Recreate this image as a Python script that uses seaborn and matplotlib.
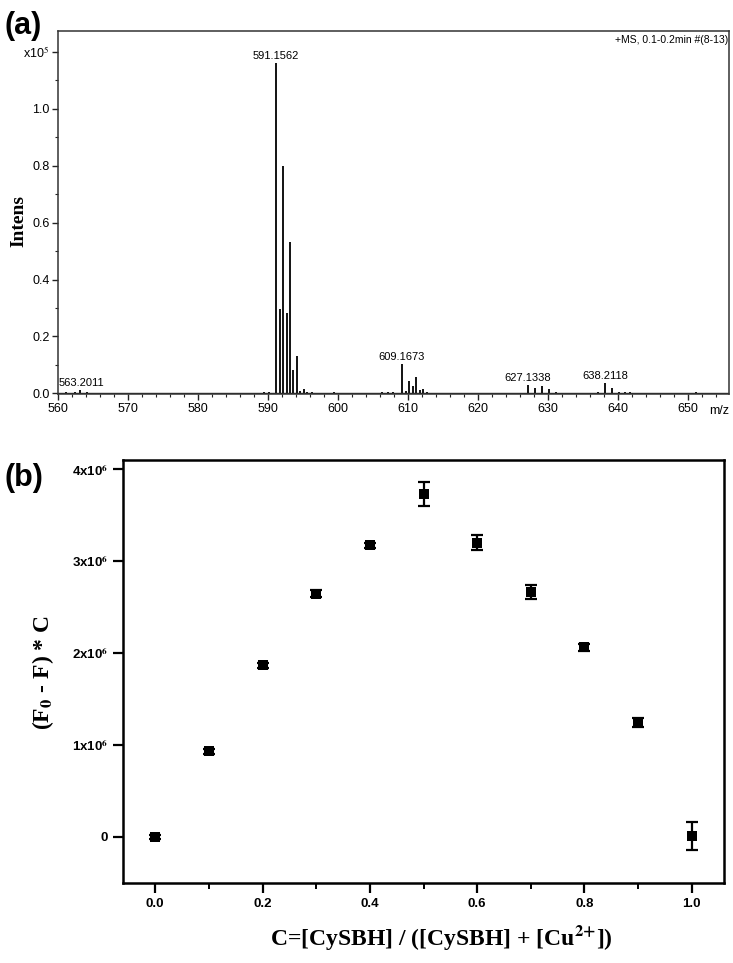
import numpy as np
import pandas as pd
import matplotlib
matplotlib.use("Agg")
import matplotlib.pyplot as plt
import seaborn as sns

sns.set_theme(style="ticks")
plt.rcParams["font.family"] = ["Liberation Sans", "DejaVu Sans"]
plt.rcParams["mathtext.fontset"] = "stix"
plt.rcParams.update({"text.color": "black", "axes.labelcolor": "black",
                     "xtick.color": "black", "ytick.color": "black"})

# ---------- data: (a) mass spectrum sticks ----------
mz_main = [591.16, 591.66, 592.16, 592.66, 593.15, 593.65, 594.15, 594.65, 595.15, 595.65]
int_main = [1.160, 0.298, 0.800, 0.282, 0.531, 0.082, 0.132, 0.010, 0.017, 0.004]

mz_609 = [609.17, 609.67, 610.17, 610.67, 611.17, 611.67, 612.17, 612.67]
int_609 = [0.102, 0.008, 0.043, 0.025, 0.057, 0.012, 0.016, 0.004]

mz_627 = [627.13, 628.13, 629.13, 630.13, 631.13, 632.13]
int_627 = [0.030, 0.018, 0.027, 0.014, 0.004, 0.003]

mz_638 = [636.4, 637.2, 638.21, 639.21, 640.2, 641.0, 641.8, 642.4]
int_638 = [0.003, 0.004, 0.036, 0.018, 0.006, 0.004, 0.004, 0.003]

mz_small = [560.5, 561.2, 561.9, 562.5, 563.20, 564.1, 565.3, 588.7, 589.5, 590.2,
            596.3, 598.6, 599.4, 600.3, 601.1, 605.5, 606.3, 607.2, 607.9, 613.4,
            615.8, 617.6, 633.6, 649.0, 651.2, 652.4]
int_small = [0.003, 0.004, 0.003, 0.004, 0.012, 0.004, 0.003, 0.003, 0.004, 0.005,
             0.004, 0.003, 0.004, 0.003, 0.003, 0.003, 0.004, 0.004, 0.005, 0.003,
             0.003, 0.003, 0.003, 0.003, 0.004, 0.003]

peak_labels = ["563.2011", "591.1562", "609.1673", "627.1338", "638.2118"]
peak_label_mz = [563.20, 591.16, 609.17, 627.13, 638.21]
peak_label_int = [0.012, 1.160, 0.102, 0.030, 0.036]

# ---------- data: (b) Job's plot ----------
ratio = [0.0, 0.1, 0.2, 0.3, 0.4, 0.5, 0.6, 0.7, 0.8, 0.9, 1.0]
signal = [0.0, 0.93e6, 1.865e6, 2.645e6, 3.17e6, 3.73e6, 3.20e6, 2.66e6, 2.06e6, 1.24e6, 0.01e6]
signal_err = [0.02e6, 0.025e6, 0.025e6, 0.035e6, 0.03e6, 0.135e6, 0.08e6, 0.075e6, 0.04e6, 0.05e6, 0.155e6]

spec = pd.DataFrame({
    "mz": mz_main + mz_609 + mz_627 + mz_638 + mz_small,
    "intens": int_main + int_609 + int_627 + int_638 + int_small,
})
job = pd.DataFrame({"ratio": ratio, "signal": signal, "err": signal_err})

fig = plt.figure(figsize=(7.33, 9.63), dpi=100)

# ---------- (a) ----------
ax1 = fig.add_axes([58 / 733, 1 - 394.5 / 963, 671 / 733, 363.5 / 963])
ax1.vlines(spec["mz"], 0, spec["intens"], color="black", lw=1.3)
ax1.axhline(0, color="#222222", lw=1.0)
ax1.set_xlim(560, 655.9)
ax1.set_ylim(-0.004, 1.274)
ax1.set_xticks(range(560, 651, 10))
ax1.set_xticks(range(560, 656, 2), minor=True)
ax1.set_yticks([0.0, 0.2, 0.4, 0.6, 0.8, 1.0, 1.2])
ax1.set_yticklabels(["0.0", "0.2", "0.4", "0.6", "0.8", "1.0", "x10$^5$"])
ax1.set_yticks(np.arange(0, 1.25, 0.1), minor=True)
ax1.tick_params(axis="both", which="major", length=4, width=1.0, labelsize=9, pad=2, color="#222222")
ax1.tick_params(axis="both", which="minor", length=2, width=0.8, color="#222222")
for s in ax1.spines.values():
    s.set_linewidth(1.1)
    s.set_color("#333333")
ax1.set_ylabel("Intens", family=["Liberation Serif"], fontweight="bold", fontsize=14)
ax1.yaxis.set_label_coords(-0.046, 0.477)
for lab, x, y in zip(peak_labels, peak_label_mz, peak_label_int):
    ha = "left" if lab == "563.2011" else "center"
    xx = 560.1 if lab == "563.2011" else x
    ax1.text(xx, y + 0.008, lab, ha=ha, va="bottom", fontsize=8)
ax1.text(0.999, 0.975, "+MS, 0.1-0.2min #(8-13)", transform=ax1.transAxes,
         ha="right", va="center", fontsize=7.5)
ax1.text(1.0, -0.045, "m/z", transform=ax1.transAxes, ha="right", va="center", fontsize=9)

# ---------- (b) ----------
ax2 = fig.add_axes([123 / 733, 1 - 882.7 / 963, 601 / 733, 422.7 / 963])
ax2.errorbar(job["ratio"], job["signal"], yerr=job["err"], fmt="none",
             ecolor="black", elinewidth=1.6, capsize=4, capthick=1.6, zorder=2)
sns.scatterplot(data=job, x="ratio", y="signal", marker="s", s=55, color="black",
                edgecolor="black", linewidth=0, ax=ax2, zorder=3)
ax2.set_xlim(-0.06, 1.06)
ax2.set_ylim(-0.5e6, 4.1e6)
ax2.set_xticks([0.0, 0.2, 0.4, 0.6, 0.8, 1.0])
ax2.set_xticklabels(["0.0", "0.2", "0.4", "0.6", "0.8", "1.0"])
ax2.set_xticks(np.arange(0.1, 1.0, 0.2), minor=True)
ax2.set_yticks([0, 1e6, 2e6, 3e6, 4e6])
ax2.set_yticklabels(["0", r"1x10$^{\mathbf{6}}$", r"2x10$^{\mathbf{6}}$",
                     r"3x10$^{\mathbf{6}}$", r"4x10$^{\mathbf{6}}$"])
ax2.tick_params(axis="both", which="major", length=7, width=1.6, labelsize=9.5, pad=4)
ax2.tick_params(axis="x", which="minor", length=4, width=1.4)
for lab in ax2.get_xticklabels() + ax2.get_yticklabels():
    lab.set_fontweight("bold")
for s in ax2.spines.values():
    s.set_linewidth(1.8)
    s.set_color("black")
ax2.set_xlabel(r"C=[CySBH] / ([CySBH] + [Cu$^{\mathbf{2{+}}}$])",
               family=["Liberation Serif"], fontweight="bold", fontsize=17)
ax2.xaxis.set_label_coords(0.529, -0.095)
ax2.set_ylabel(r"(F$_{\mathbf{0}}$ - F) * C", family=["Liberation Serif"],
               fontweight="bold", fontsize=17)
ax2.yaxis.set_label_coords(-0.112, 0.496)

fig.text(5 / 733, 1 - 26 / 963, "(a)", fontsize=22, fontweight="bold", va="center", ha="left")
fig.text(4 / 733, 1 - 478 / 963, "(b)", fontsize=22, fontweight="bold", va="center", ha="left")

fig.savefig("out.png", dpi=100)
